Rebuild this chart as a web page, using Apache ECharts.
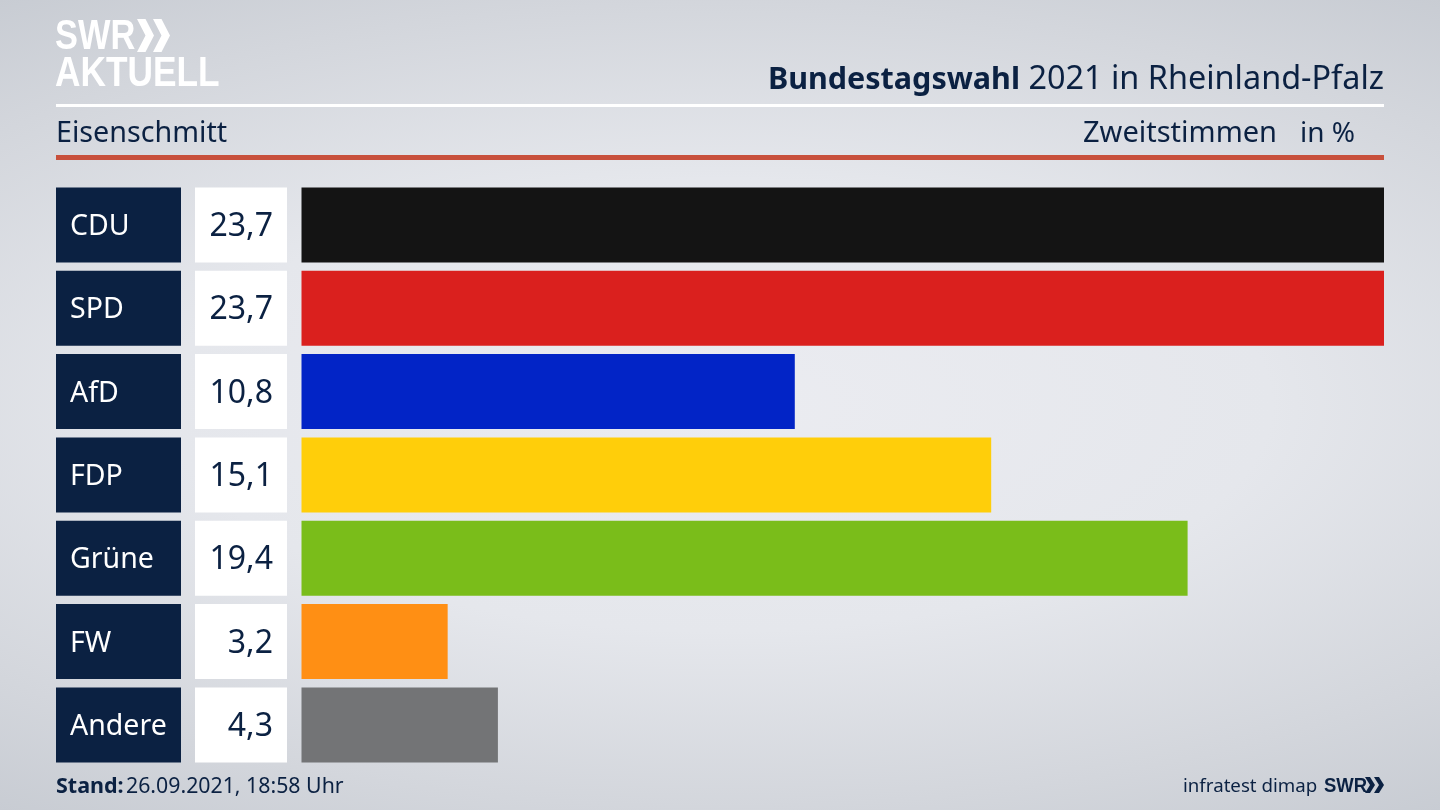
<!DOCTYPE html>
<html lang="de">

<head>
  <meta charset="UTF-8">
  <title>Bundestagswahl 2021 in Rheinland-Pfalz</title>
  <style>
    html, body {
      margin: 0;
      height: 100%;
      background: radial-gradient(ellipse 85% 62% at 50% 50%, #ebecf1 0%, #e5e7ec 45%, #d3d6dc 80%, #c8ccd3 100%);
    }
    #main {
      width: 1440px;
      height: 810px;
    }
  </style>
</head>

<body>
  <div id="main"></div>

  <script src="https://cdn.jsdelivr.net/npm/echarts@6/dist/echarts.min.js"></script>
  <script>
    const parties = ['CDU', 'SPD', 'AfD', 'FDP', 'Grüne', 'FW', 'Andere']
    const shares = [23.7, 23.7, 10.8, 15.1, 19.4, 3.2, 4.3]
    const partyColors = ['#141414', '#da201e', '#0224c6', '#ffce0a', '#7abd1a', '#ff8f14', '#737476']

    const navy = '#0b2142'
    const font = '"Noto Sans", sans-serif'
    const logoFont = '"Liberation Sans", sans-serif'
    const rowHeight = 75

    // one chevron of the SWR logo
    const chevron = (x, y, w, h, color) => ({
      type: 'polygon',
      shape: {
        points: [[x, y], [x + w * 0.5, y], [x + w, y + h / 2], [x + w * 0.5, y + h], [x, y + h], [x + w * 0.5, y + h / 2]]
      },
      style: { fill: color }
    })

    const label = (x, y, text, size, color, extra) => ({
      type: 'text',
      x: x,
      y: y,
      style: Object.assign({
        text: text,
        fontFamily: font,
        fontSize: size,
        fill: color,
        verticalAlign: 'middle'
      }, extra)
    })

    // logo text is squeezed a bit, the real logo is narrower than Liberation
    const logoLabel = (x, y, text, size, color, sx) => Object.assign(
      label(x, y, text, size, color, { fontWeight: 'bold', fontFamily: logoFont }),
      { scaleX: sx }
    )

    // party box and value box left of the bars
    const renderBoxes = (params, api) => {
      const i = api.value(0)
      const cy = api.coord([0, i])[1]
      const top = cy - rowHeight / 2
      return {
        type: 'group',
        children: [
          { type: 'rect', shape: { x: 56, y: top, width: 125, height: rowHeight }, style: { fill: navy } },
          { type: 'rect', shape: { x: 195, y: top, width: 92, height: rowHeight }, style: { fill: '#ffffff' } },
          label(70, cy + 2, parties[i], 28.5, '#ffffff'),
          label(273, cy + 2, shares[i].toFixed(1).replace('.', ','), 32, navy, { align: 'right' })
        ]
      }
    }

    const chart = echarts.init(document.getElementById('main'))

    chart.setOption({
      animation: false,
      backgroundColor: 'transparent',
      grid: { left: 301.5, right: 56, top: 183.3, bottom: 43.4 },
      xAxis: { type: 'value', min: 0, max: 23.7, show: false },
      yAxis: { type: 'category', data: parties, inverse: true, show: false },
      series: [
        {
          type: 'bar',
          barWidth: rowHeight,
          data: shares.map((v, i) => ({ value: v, itemStyle: { color: partyColors[i] } }))
        },
        {
          type: 'custom',
          coordinateSystem: 'cartesian2d',
          clip: false,
          encode: { x: 1, y: 0 },
          data: parties.map((p, i) => [i, 0]),
          renderItem: renderBoxes
        }
      ],
      graphic: [
        // logo
        logoLabel(55, 37, 'SWR', 43, '#ffffff', 0.8),
        chevron(137, 19, 17, 33, '#ffffff'),
        chevron(153, 19, 17, 33, '#ffffff'),
        logoLabel(55, 74, 'AKTUELL', 42, '#ffffff', 0.84),

        // header
        label(1020, 80, 'Bundestagswahl', 30.5, navy, { align: 'right', fontWeight: 'bold' }),
        label(1384, 80, '2021 in Rheinland-Pfalz', 32.4, navy, { align: 'right' }),
        { type: 'rect', shape: { x: 56, y: 104, width: 1328, height: 3 }, style: { fill: '#ffffff' } },
        label(56, 134, 'Eisenschmitt', 28.7, navy),
        label(1083, 134, 'Zweitstimmen', 29, navy),
        label(1300, 134, 'in %', 28, navy),
        { type: 'rect', shape: { x: 56, y: 155, width: 1328, height: 5 }, style: { fill: '#c8503c' } },

        // footer
        label(56, 787, 'Stand:', 21.5, navy, { fontWeight: 'bold' }),
        label(126, 787, '26.09.2021, 18:58 Uhr', 21.3, navy),
        label(1183, 787, 'infratest dimap', 18.7, navy),
        logoLabel(1324, 786, 'SWR', 21, navy, 0.88),
        chevron(1365, 777, 10, 16, navy),
        chevron(1374, 777, 10, 16, navy)
      ]
    })
  </script>
</body>

</html>
